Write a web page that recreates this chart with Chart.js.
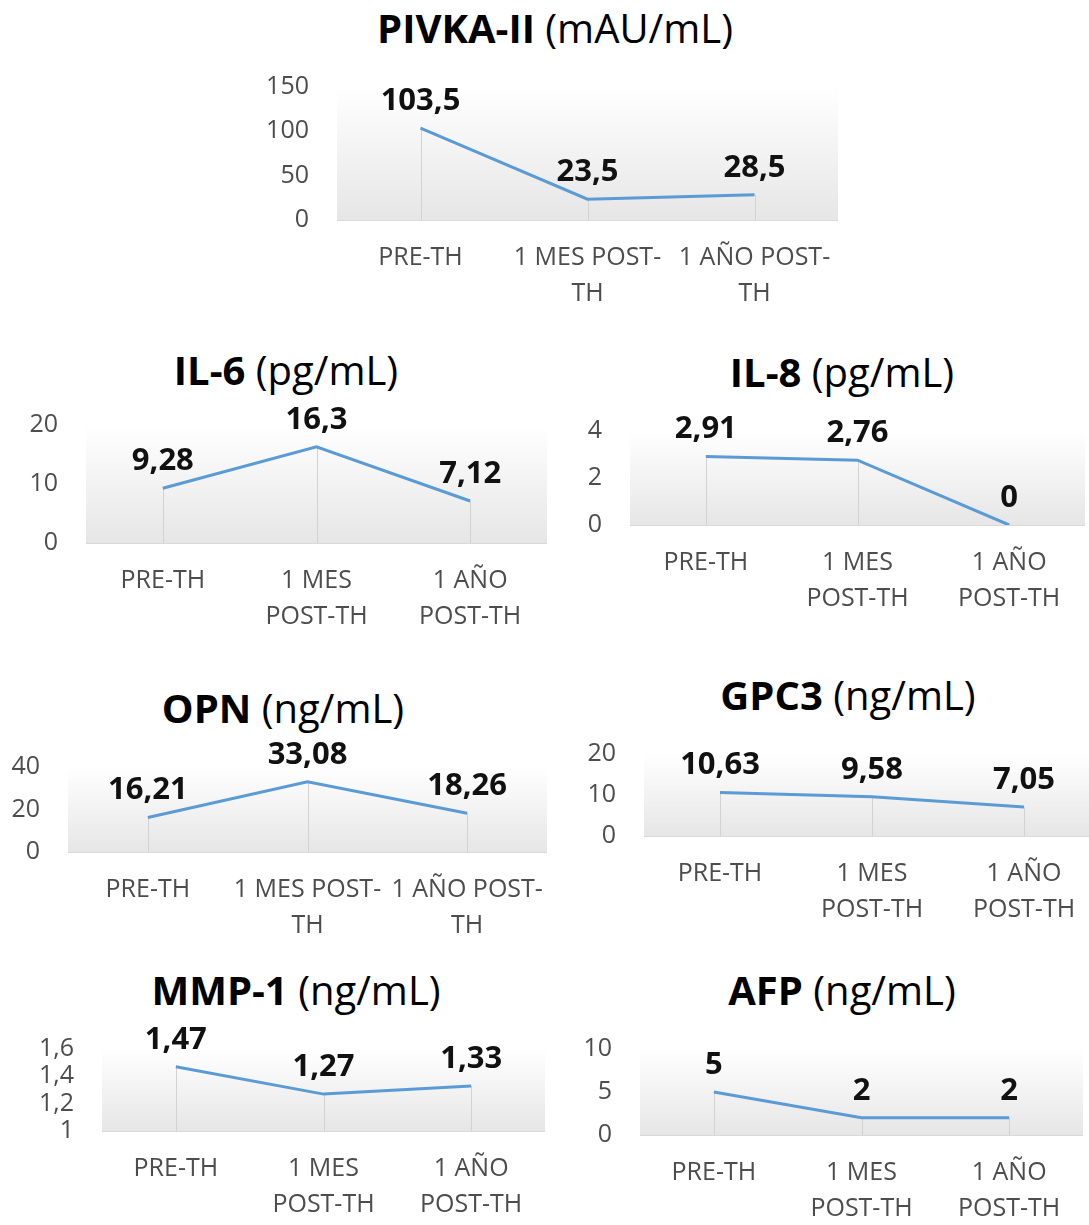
<!DOCTYPE html>
<html>
<head>
<meta charset="utf-8">
<script src="https://cdn.jsdelivr.net/npm/chart.js@4.4.0/dist/chart.umd.min.js"></script>
<style>
  body { margin: 0; background: #fff; width: 1089px; height: 1225px; overflow: hidden; position: relative; font-family: "Open Sans", sans-serif; }
  .ttl { position: absolute; transform: translate(-50%, -50%); white-space: nowrap; font-size: 40px; color: #000; line-height: 1; }
  .ttl b { font-weight: 700; }
  canvas { position: absolute; }
</style>
</head>
<body>
<script>
// categories (two wrappings, as in the original)
var CAT_WIDE = [["PRE-TH"], ["1 MES POST-", "TH"], ["1 AÑO POST-", "TH"]];
var CAT_TALL = [["PRE-TH"], ["1 MES", "POST-TH"], ["1 AÑO", "POST-TH"]];

// series values
var PIVKA = [103.5, 23.5, 28.5];
var IL6   = [9.28, 16.3, 7.12];
var IL8   = [2.91, 2.76, 0];
var OPN   = [16.21, 33.08, 18.26];
var GPC3  = [10.63, 9.58, 7.05];
var MMP1  = [1.47, 1.27, 1.33];
var AFP   = [5, 2, 2];

// y axis ranges [min, max, step]
var PIVKA_Y = [0, 150, 50];
var IL6_Y   = [0, 20, 10];
var IL8_Y   = [0, 4, 2];
var OPN_Y   = [0, 40, 20];
var GPC3_Y  = [0, 20, 10];
var MMP1_Y  = [1, 1.6, 0.2];
var AFP_Y   = [0, 10, 5];

// panel layout: plot left/right, y of top tick, y of zero tick, title centre
var panels = [
    { name: 'PIVKA-II', unit: '(mAU/mL)', data: PIVKA, cats: CAT_WIDE, y: PIVKA_Y, l: 337, r: 838, t: 87,   b: 220,  tx: 555, ty: 28 },
    { name: 'IL-6',     unit: '(pg/mL)',  data: IL6,   cats: CAT_TALL, y: IL6_Y,   l: 86,  r: 547, t: 425,  b: 543,  tx: 286, ty: 370 },
    { name: 'IL-8',     unit: '(pg/mL)',  data: IL8,   cats: CAT_TALL, y: IL8_Y,   l: 630, r: 1085, t: 431, b: 525,  tx: 842, ty: 372 },
    { name: 'OPN',      unit: '(ng/mL)',  data: OPN,   cats: CAT_WIDE, y: OPN_Y,   l: 68,  r: 547, t: 767,  b: 852,  tx: 283, ty: 708 },
    { name: 'GPC3',     unit: '(ng/mL)',  data: GPC3,  cats: CAT_TALL, y: GPC3_Y,  l: 644, r: 1100, t: 754, b: 836,  tx: 848, ty: 695 },
    { name: 'MMP-1',    unit: '(ng/mL)',  data: MMP1,  cats: CAT_TALL, y: MMP1_Y,  l: 102, r: 545, t: 1049, b: 1131, tx: 296, ty: 990 },
    { name: 'AFP',      unit: '(ng/mL)',  data: AFP,   cats: CAT_TALL, y: AFP_Y,   l: 640, r: 1083, t: 1049, b: 1135, tx: 842, ty: 990 }
];

var YW = 70;     // y axis box width
var PADTOP = 45; // room for value labels
var XH = 100;    // x axis box height

function comma(v) {
    return String(Math.round(v * 100) / 100).replace('.', ',');
}

// gradient plot area + drop lines + value labels
var excelLook = {
    id: 'excelLook',
    beforeDatasetsDraw: function (chart) {
        var ctx = chart.ctx, a = chart.chartArea;
        var g = ctx.createLinearGradient(0, a.top, 0, a.bottom);
        g.addColorStop(0, 'rgba(255,255,255,1)');
        g.addColorStop(1, '#e6e6e6');
        ctx.save();
        ctx.fillStyle = g;
        ctx.fillRect(a.left, a.top, a.right - a.left, a.bottom - a.top);
        ctx.strokeStyle = '#d2d2d2';
        ctx.lineWidth = 1;
        chart.getDatasetMeta(0).data.forEach(function (pt) {
            var x = Math.round(pt.x) + 0.5;
            ctx.beginPath();
            ctx.moveTo(x, pt.y);
            ctx.lineTo(x, a.bottom);
            ctx.stroke();
        });
        ctx.restore();
    },
    afterDatasetsDraw: function (chart) {
        var ctx = chart.ctx;
        var vals = chart.data.datasets[0].data;
        ctx.save();
        ctx.font = 'bold 31px "Open Sans"';
        ctx.fillStyle = '#111';
        ctx.textAlign = 'center';
        ctx.textBaseline = 'middle';
        chart.getDatasetMeta(0).data.forEach(function (pt, i) {
            ctx.fillText(comma(vals[i]), pt.x, pt.y - 27);
        });
        ctx.restore();
    }
};

panels.forEach(function (p) {
    var title = document.createElement('div');
    title.className = 'ttl';
    title.style.left = p.tx + 'px';
    title.style.top = p.ty + 'px';
    title.innerHTML = '<b>' + p.name + '</b> ' + p.unit;
    document.body.appendChild(title);

    var cv = document.createElement('canvas');
    var w = YW + (p.r - p.l);
    var h = PADTOP + (p.b - p.t) + XH;
    cv.width = w;
    cv.height = h;
    cv.style.left = (p.l - YW) + 'px';
    cv.style.top = (p.t - PADTOP) + 'px';
    document.body.appendChild(cv);

    new Chart(cv, {
        type: 'line',
        data: {
            labels: p.cats,
            datasets: [{
                data: p.data,
                borderColor: '#5b9bd5',
                borderWidth: 3,
                pointRadius: 0,
                tension: 0,
                fill: false
            }]
        },
        options: {
            responsive: false,
            animation: false,
            devicePixelRatio: 1,
            layout: { padding: { top: PADTOP, left: 0, right: 0, bottom: 0 } },
            plugins: { legend: { display: false }, tooltip: { enabled: false } },
            scales: {
                x: {
                    offset: true,
                    grid: { display: false, drawTicks: false },
                    border: { display: true, color: '#d9d9d9', width: 1 },
                    ticks: {
                        color: '#4d4d4d',
                        font: { family: 'Open Sans', size: 25, lineHeight: 1.44 },
                        padding: 20,
                        maxRotation: 0,
                        autoSkip: false
                    },
                    afterFit: function (s) {
                        s.height = XH;
                        // keep the plot the full panel width
                        s.paddingLeft = 0;
                        s.paddingRight = 0;
                    }
                },
                y: {
                    min: p.y[0],
                    max: p.y[1],
                    grid: { display: false, drawTicks: false },
                    border: { display: false },
                    ticks: {
                        stepSize: p.y[2],
                        autoSkip: false,
                        color: '#4d4d4d',
                        font: { family: 'Open Sans', size: 25 },
                        padding: 28,
                        callback: function (v) { return comma(v); }
                    },
                    afterFit: function (s) { s.width = YW; }
                }
            }
        },
        plugins: [excelLook]
    });
});
</script>
</body>
</html>
